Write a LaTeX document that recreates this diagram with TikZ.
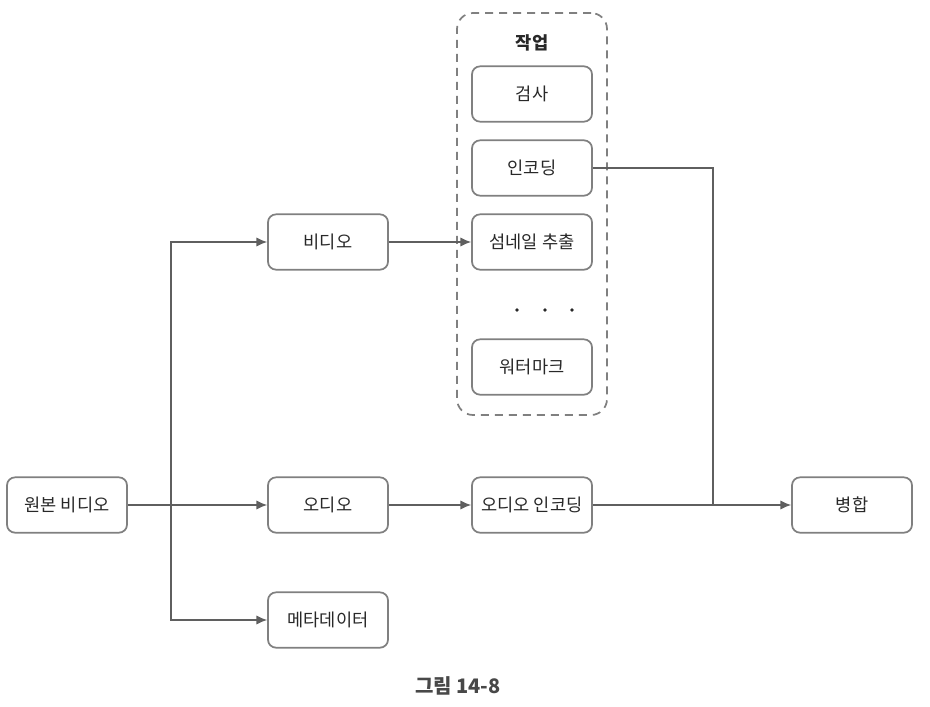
\documentclass[tikz,border=0pt]{standalone}
\usepackage{fontspec}
\setmainfont{Noto Sans CJK KR}
\usetikzlibrary{arrows.meta}
\definecolor{boxline}{RGB}{128,128,128}
\definecolor{lineclr}{RGB}{95,95,95}
\definecolor{txt}{RGB}{40,40,40}
\begin{document}
\begin{tikzpicture}[x=0.75pt,y=-0.75pt,
    box/.style={draw=boxline, line width=1.3pt, rounded corners=6pt, fill=white,
      minimum width=90pt, minimum height=41.5pt, text=txt, font=\fontsize{13.2}{15}\selectfont},
    conn/.style={draw=lineclr, line width=1.1pt},
    arr/.style={conn, -{Latex[length=8pt,width=7pt]}}]
  \useasboundingbox (0,0) rectangle (930,706);

  % group of jobs
  \node[draw=boxline, line width=1.3pt, dash pattern=on 6pt off 4.5pt, rounded corners=12pt,
        minimum width=112.5pt, minimum height=301.5pt] (jobs) at (532,214) {};
  \node[text=txt, font=\fontsize{13.2}{15}\selectfont\bfseries] (jobtitle) at (532,43) {작업};

  % nodes
  \node[box] (src) at (67,505) {원본 비디오};
  \node[box] (vid) at (328,242) {비디오};
  \node[box] (aud) at (328,505) {오디오};
  \node[box] (meta) at (328,620) {메타데이터};

  \node[box] (chk) at (532,94) {검사};
  \node[box] (enc) at (532,168) {인코딩};
  \node[box] (thumb) at (532,242) {섬네일 추출};
  \node[box] (wm) at (532,367) {워터마크};
  \node[box] (aenc) at (532,505) {오디오 인코딩};
  \node[box] (merge) at (852,505) {병합};

  % dots between jobs
  \foreach \i in {517,545,572}
    \fill[txt] (\i,310) circle (1.8);

  % split and join points
  \coordinate (S) at (171,505);
  \coordinate (J) at (713,505);

  % connectors
  \draw[arr] (src) -- (aud);
  \draw[arr] (S) |- (vid);
  \draw[arr] (S) |- (meta);
  \draw[arr] (vid) -- (thumb);
  \draw[arr] (aud) -- (aenc);
  \draw[arr] (aenc) -- (merge);
  \draw[conn] (enc) -| (J);

  % caption
  \node[text=txt!85!white, font=\fontsize{15}{17}\selectfont\bfseries] (cap) at (458,686) {그림 14-8};
\end{tikzpicture}
\end{document}
